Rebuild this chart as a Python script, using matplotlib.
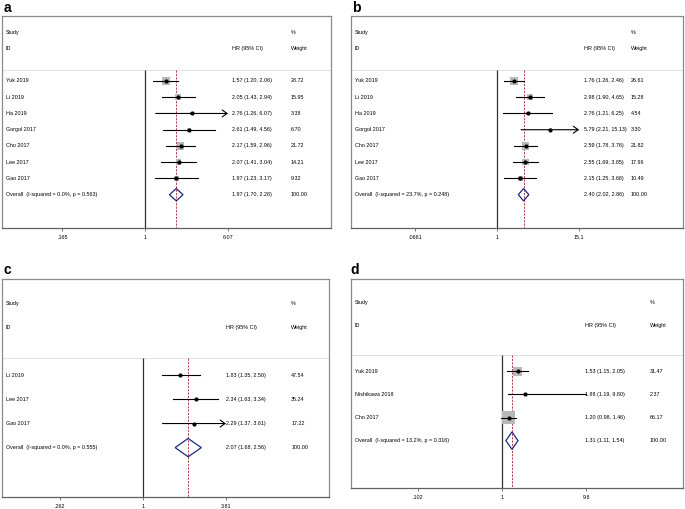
import numpy as np
import matplotlib
matplotlib.use("Agg")
import matplotlib.pyplot as plt
from matplotlib.patches import Polygon

plt.rcParams['font.family'] = ['Liberation Sans', 'DejaVu Sans']

# ---------------- data ----------------
a_studies = ["Yuk 2019", "Li 2019", "Ha 2019", "Gorgol 2017", "Cho 2017", "Lee 2017", "Gao 2017"]
a_hr = [1.57, 2.05, 2.76, 2.61, 2.17, 2.07, 1.97]
a_lo = [1.20, 1.43, 1.26, 1.49, 1.59, 1.41, 1.23]
a_hi = [2.06, 2.94, 6.07, 4.56, 2.96, 3.04, 3.17]
a_wt = [28.72, 15.95, 3.38, 6.70, 21.72, 14.21, 9.32]
a_arrow = [False, False, True, False, False, False, False]
a_overall = [1.97, 1.70, 2.28]
a_het = "I-squared = 0.0%, p = 0.563"
a_ticks = [0.165, 1, 6.07]
a_ticklabels = [".165", "1", "6.07"]

b_studies = ["Yuk 2019", "Li 2019", "Ha 2019", "Gorgol 2017", "Cho 2017", "Lee 2017", "Gao 2017"]
b_hr = [1.76, 2.98, 2.76, 5.79, 2.59, 2.55, 2.15]
b_lo = [1.26, 1.90, 1.21, 2.21, 1.78, 1.69, 1.25]
b_hi = [2.46, 4.65, 6.25, 15.13, 3.76, 3.85, 3.68]
b_wt = [26.61, 15.28, 4.54, 3.30, 21.82, 17.96, 10.49]
b_arrow = [False, False, False, True, False, False, False]
b_overall = [2.40, 2.02, 2.86]
b_het = "I-squared = 23.7%, p = 0.248"
b_ticks = [0.0661, 1, 15.1]
b_ticklabels = [".0661", "1", "15.1"]

c_studies = ["Li 2019", "Lee 2017", "Gao 2017"]
c_hr = [1.83, 2.34, 2.29]
c_lo = [1.35, 1.63, 1.37]
c_hi = [2.50, 3.34, 3.81]
c_wt = [47.54, 35.24, 17.22]
c_arrow = [False, False, True]
c_overall = [2.07, 1.68, 2.56]
c_het = "I-squared = 0.0%, p = 0.555"
c_ticks = [0.262, 1, 3.81]
c_ticklabels = [".262", "1", "3.81"]

d_studies = ["Yuk 2019", "Nishikawa 2018", "Cho 2017"]
d_hr = [1.53, 1.88, 1.20]
d_lo = [1.15, 1.19, 0.98]
d_hi = [2.05, 9.80, 1.46]
d_wt = [31.47, 2.37, 66.17]
d_arrow = [False, False, False]
d_overall = [1.31, 1.11, 1.54]
d_het = "I-squared = 13.2%, p = 0.316"
d_ticks = [0.102, 1, 9.8]
d_ticklabels = [".102", "1", "9.8"]

# ---------------- layout ----------------
W, H = 685, 509
fig = plt.figure(figsize=(W / 100, H / 100), dpi=100)

FS = 3.9
BORDER = "#8a8a8a"
NAVY = "#1c2a80"
RED = "#b0404a"
BOXC = "#b8b8b8"

panels = [
    dict(letter="a", box=(2, 16, 331, 228), lpos=(4, 8), null=0.435, tick=0.687,
         hrx=0.700, wtx=0.878, boxes=True,
         studies=a_studies, hr=a_hr, lo=a_lo, hi=a_hi, wt=a_wt, arrow=a_arrow,
         overall=a_overall, het=a_het, ticks=a_ticks, ticklabels=a_ticklabels),
    dict(letter="b", box=(351, 16, 683, 228), lpos=(352, 8), null=0.440, tick=0.687,
         hrx=0.702, wtx=0.843, boxes=True,
         studies=b_studies, hr=b_hr, lo=b_lo, hi=b_hi, wt=b_wt, arrow=b_arrow,
         overall=b_overall, het=b_het, ticks=b_ticks, ticklabels=b_ticklabels),
    dict(letter="c", box=(2, 279, 329, 497), lpos=(4, 270), null=0.431, tick=0.685,
         hrx=0.685, wtx=0.884, boxes=False,
         studies=c_studies, hr=c_hr, lo=c_lo, hi=c_hi, wt=c_wt, arrow=c_arrow,
         overall=c_overall, het=c_het, ticks=c_ticks, ticklabels=c_ticklabels),
    dict(letter="d", box=(351, 279, 683, 488), lpos=(350, 270), null=0.455, tick=0.708,
         hrx=0.705, wtx=0.900, boxes=True,
         studies=d_studies, hr=d_hr, lo=d_lo, hi=d_hi, wt=d_wt, arrow=d_arrow,
         overall=d_overall, het=d_het, ticks=d_ticks, ticklabels=d_ticklabels),
]

for p in panels:
    l, t, r, b = p["box"]
    ax = fig.add_axes([l / W, 1 - b / H, (r - l) / W, (b - t) / H])
    ax.set_xscale("log")
    T = np.log(p["ticks"][-1])
    Wln = T / (p["tick"] - p["null"])
    ax.set_xlim(np.exp(-p["null"] * Wln), np.exp((1 - p["null"]) * Wln))
    n = len(p["studies"])
    ov_row = n
    ax.set_ylim(ov_row + 2.05, -4.0)

    # frame
    for s in ax.spines.values():
        s.set_color(BORDER)
        s.set_linewidth(0.9)
    ax.spines["bottom"].set_color("#606060")
    ax.set_yticks([])
    ax.set_xticks(p["ticks"])
    ax.set_xticklabels(p["ticklabels"])
    ax.xaxis.set_minor_locator(matplotlib.ticker.NullLocator())
    ax.tick_params(axis="x", direction="out", length=2.2, width=0.6, color="#606060",
                   labelsize=FS, pad=3)

    sep = -0.7
    ax.axhline(sep, color="#e2e2e2", lw=0.8)
    ybot = ov_row + 2.05
    ax.plot([1, 1], [sep, ybot], color="#303030", lw=0.9, solid_capstyle="butt")
    ax.plot([p["overall"][0]] * 2, [sep, ybot], color=RED, lw=0.7, ls=(0, (2.2, 1.3)))

    rows = np.arange(n)
    hr = np.array(p["hr"]); lo = np.array(p["lo"]); hi = np.array(p["hi"]); wt = np.array(p["wt"])
    if p["boxes"]:
        ax.scatter(hr, rows, s=1.25 * wt, marker="s", color=BOXC, edgecolor="none", zorder=2)
    for i in range(n):
        if p["arrow"][i]:
            ax.annotate("", xy=(hi[i], rows[i]), xytext=(lo[i], rows[i]),
                        arrowprops=dict(arrowstyle="->,head_length=0.35,head_width=0.25",
                                        color="black", lw=0.8, shrinkA=0, shrinkB=0),
                        zorder=3)
        else:
            ax.plot([lo[i], hi[i]], [rows[i], rows[i]], color="black", lw=0.8, zorder=3)
    ax.plot(hr, rows, "o", color="black", ms=3.0, zorder=4, mec="none")

    oh, ol, ou = p["overall"]
    dh = 0.38
    ax.add_patch(Polygon([(ol, ov_row), (oh, ov_row - dh), (ou, ov_row), (oh, ov_row + dh)],
                         closed=True, fill=False, edgecolor=NAVY, lw=0.9, zorder=4))

    tr = ax.get_yaxis_transform()
    tx = 0.012
    ax.text(tx, -3, "Study", transform=tr, fontsize=FS, va="center", ha="left")
    ax.text(tx, -2, "ID", transform=tr, fontsize=FS, va="center", ha="left")
    ax.text(p["hrx"], -2, "HR (95% CI)", transform=tr, fontsize=FS, va="center", ha="left")
    ax.text(p["wtx"], -3, "%", transform=tr, fontsize=FS, va="center", ha="left")
    ax.text(p["wtx"], -2, "Weight", transform=tr, fontsize=FS, va="center", ha="left")
    for i in range(n):
        ax.text(tx, rows[i], p["studies"][i], transform=tr, fontsize=FS, va="center", ha="left")
        ax.text(p["hrx"], rows[i], f"{hr[i]:.2f} ({lo[i]:.2f}, {hi[i]:.2f})", transform=tr,
                fontsize=FS, va="center", ha="left")
        ax.text(p["wtx"], rows[i], f"{wt[i]:.2f}", transform=tr, fontsize=FS, va="center", ha="left")
    ax.text(tx, ov_row, f"Overall  ({p['het']})", transform=tr, fontsize=FS, va="center", ha="left")
    ax.text(p["hrx"], ov_row, f"{oh:.2f} ({ol:.2f}, {ou:.2f})", transform=tr, fontsize=FS,
            va="center", ha="left")
    ax.text(p["wtx"], ov_row, "100.00", transform=tr, fontsize=FS, va="center", ha="left")

    lx, ly = p["lpos"]
    fig.text(lx / W, 1 - ly / H, p["letter"], fontsize=10, fontweight="bold",
             ha="left", va="center")

fig.savefig("out.png", dpi=100)
